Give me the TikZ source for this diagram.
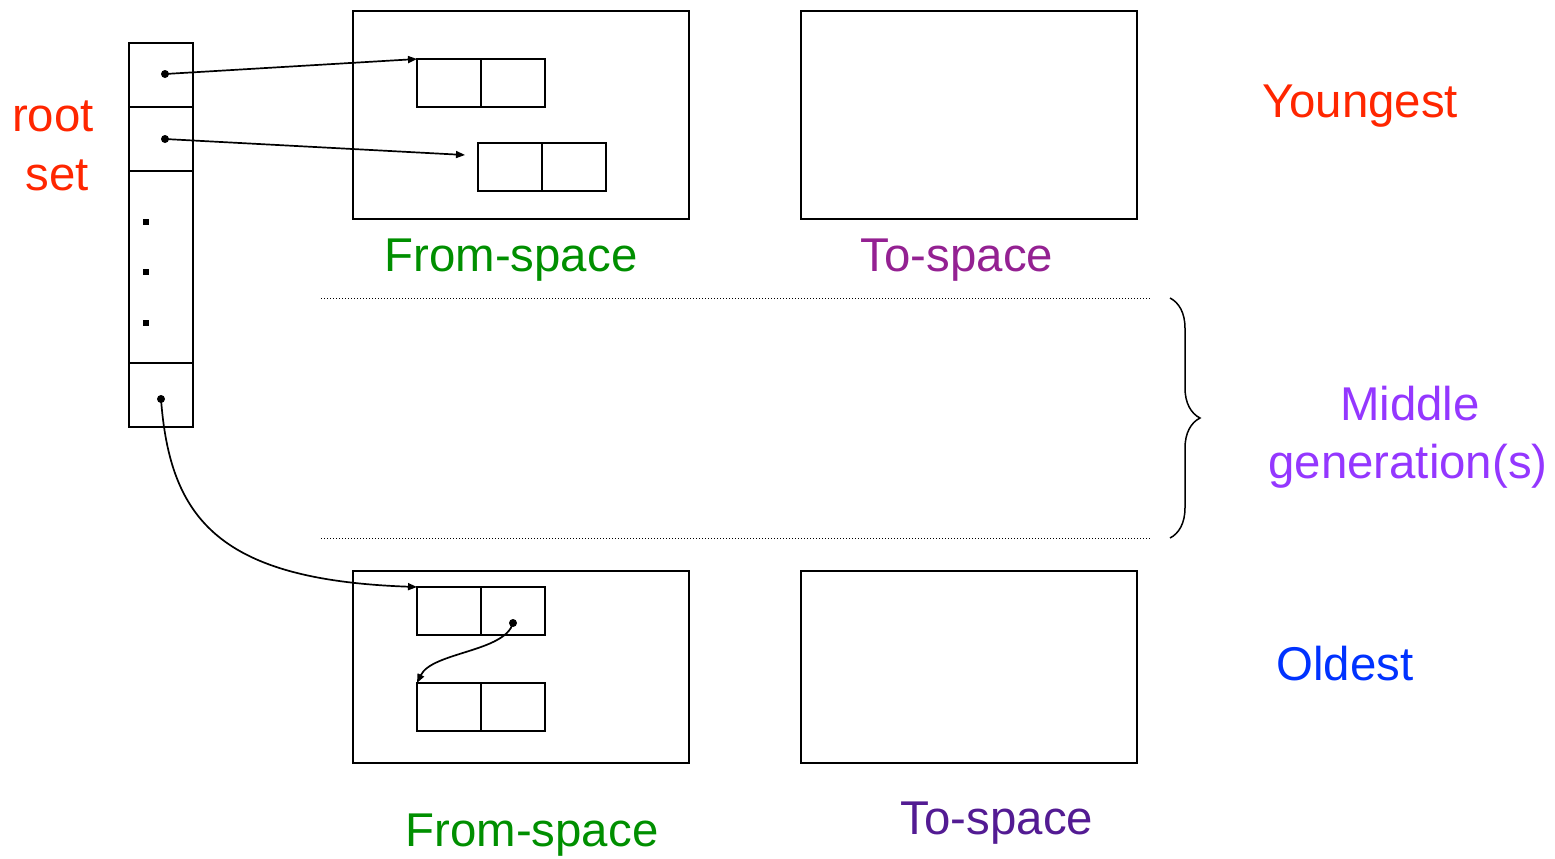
\documentclass[tikz,border=0pt]{standalone}
\usepackage{fontspec}
\setmainfont{Liberation Sans}
\usepackage{xcolor}
\usepackage{tikz}
\usetikzlibrary{arrows.meta, positioning, decorations.pathreplacing}

\definecolor{youngred}{RGB}{255,38,0}
\definecolor{fromgreen}{RGB}{0,143,0}
\definecolor{topurple}{RGB}{148,33,146}
\definecolor{midviolet}{RGB}{148,55,255}
\definecolor{oldblue}{RGB}{0,50,255}
\definecolor{todeep}{RGB}{83,27,147}

\begin{document}
\begin{tikzpicture}[
  x=0.5pt, y=-0.5pt,
  every node/.style={font=\fontsize{23.7}{28}\selectfont},
  space/.style={rectangle, draw, line width=1pt, outer sep=0pt, inner sep=0pt, minimum width=168pt, minimum height=104pt},
  cell/.style={rectangle, draw, line width=1pt, outer sep=0pt, inner sep=0pt, minimum width=32pt, minimum height=24pt},
  rootcell/.style={cell, minimum height=32pt},
  dotsq/.style={rectangle, fill, inner sep=0pt, minimum size=3pt},
  ptr/.style={-{Triangle[length=4.5pt, width=3.5pt]}, line width=0.85pt},
  sep/.style={line width=0.5pt, dash pattern=on 0.5pt off 1pt}
]
\useasboundingbox (0,0) rectangle (1555,858);

% Root set
\node[rootcell] (r1) at (161,75) {};
\node[rootcell, below=0pt of r1] (r2) {};
\node[rootcell, minimum height=96pt, below=0pt of r2] (rdots) {};
\node[rootcell, below=0pt of rdots] (r3) {};
\foreach \y in {222,272,323}
  \node[dotsq] (v\y) at (146,\y) {};
\node[text=youngred, anchor=base] (rootlbl) at (53,131) {root};
\node[text=youngred, anchor=base] (setlbl) at (57,190) {set};

% Youngest generation
\node[space] (fromY) at (521,115) {};
\node[space] (toY) at (969,115) {};
\node[cell] (a1) at (449,83) {};
\node[cell, right=0pt of a1] (a2) {};
\node[cell] (b1) at (510,167) {};
\node[cell, right=0pt of b1] (b2) {};
\node[text=fromgreen, anchor=base] (fromYlbl) at (511,271) {From-space};
\node[text=topurple, anchor=base] (toYlbl) at (957,271) {To-space};
\node[text=youngred, anchor=base] (young) at (1360,117) {Youngest};

% Middle generation(s)
\coordinate (m1a) at (321,298);
\coordinate (m1b) at (1151,298);
\coordinate (m2a) at (321,538);
\coordinate (m2b) at (1151,538);
\draw[sep] (m1a) -- (m1b);
\draw[sep] (m2a) -- (m2b);
\coordinate (br1) at (1170,298);
\coordinate (br2) at (1170,538);
\draw[decorate, decoration={brace, amplitude=15pt}, line width=0.75pt] (br1) -- (br2);
\node[text=midviolet, anchor=base] (mid1) at (1410,420) {Middle};
\node[text=midviolet, anchor=base] (mid2) at (1408,478) {generation(s)};

% Oldest generation
\node[space, minimum height=96pt] (fromO) at (521,667) {};
\node[space, minimum height=96pt] (toO) at (969,667) {};
\node[cell] (c1) at (449,611) {};
\node[cell, right=0pt of c1] (c2) {};
\node[cell] (d1) at (449,707) {};
\node[cell, right=0pt of d1] (d2) {};
\node[text=fromgreen, anchor=base] (fromOlbl) at (532,846) {From-space};
\node[text=todeep, anchor=base] (toOlbl) at (997,834) {To-space};
\node[text=oldblue, anchor=base] (old) at (1345,680) {Oldest};

% Pointers
\coordinate (r1src) at ([xshift=2pt, yshift=0.5pt]r1.center);
\coordinate (r2src) at ([xshift=2pt]r2.center);
\coordinate (r3src) at ([yshift=-2pt]r3.center);
\coordinate (b1in) at ([xshift=-6.5pt, yshift=6pt]b1.west);
\coordinate (c2src) at ([yshift=-6pt]c2.center);
\foreach \p in {r1src, r2src, r3src, c2src}
  \fill (\p) circle (2pt);
\draw[ptr] (r1src) -- (a1.north west);
\draw[ptr] (r2src) -- (b1in);
\draw[ptr] (r3src) .. controls (170,520) and (220,580) .. (c1.north west);
\draw[ptr] (c2src) .. controls (505,652) and (432,652) .. (d1.north west);
\end{tikzpicture}
\end{document}
